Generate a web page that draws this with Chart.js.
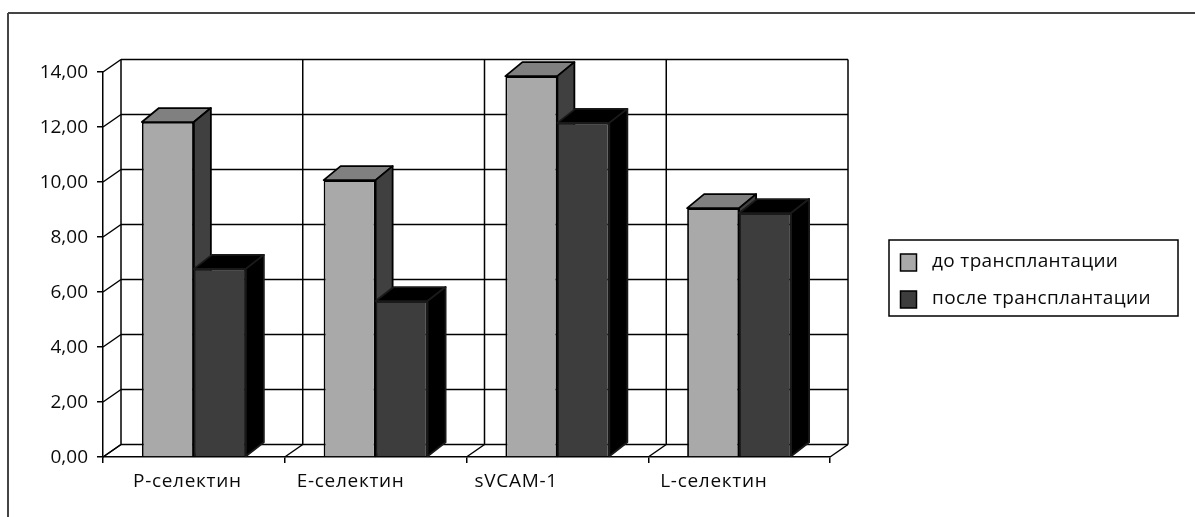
<!DOCTYPE html>
<html>
<head>
<meta charset="utf-8">
<title>Селектины</title>
<script src="https://cdn.jsdelivr.net/npm/chart.js@4/dist/chart.umd.min.js"></script>
<style>
  html, body { margin: 0; padding: 0; background: #fff; }
  #wrap { position: relative; width: 1195px; height: 517px; }
</style>
</head>
<body>
<div id="wrap"><canvas id="chart" width="1195" height="517"></canvas></div>
<script>
const categories = ['P-селектин', 'E-селектин', 'sVCAM-1', 'L-селектин'];
const seriesNames = ['до трансплантации', 'после трансплантации'];
const beforeValues = [12.18, 10.07, 13.85, 9.05];
const afterValues = [6.84, 5.67, 12.15, 8.87];
const yTicks = [0, 2, 4, 6, 8, 10, 12, 14];

const FONT = '"Open Sans", sans-serif';
const TEXT = '#0a0a0a';
const LINE = '#000';

// depth of the floor and walls, in px
const WALL_DX = 18, WALL_DY = 12.5;
// how far each category label starts from its tick
const labelInset = [30, 12, 8, 12];

const faces = [
    { front: '#a9a9a9', top: '#808080', side: '#404040', edge: '#000', dx: 17, dy: 14 },
    { front: '#3d3d3d', top: '#000000', side: '#000000', edge: '#1a1a1a', dx: 18, dy: 14 }
];

function line(ctx, x1, y1, x2, y2) {
    ctx.beginPath();
    ctx.moveTo(x1, y1);
    ctx.lineTo(x2, y2);
    ctx.stroke();
}

function poly(ctx, pts, fill) {
    ctx.beginPath();
    pts.forEach((p, i) => i ? ctx.lineTo(p[0], p[1]) : ctx.moveTo(p[0], p[1]));
    ctx.closePath();
    ctx.fillStyle = fill;
    ctx.fill();
    ctx.stroke();
}

// back wall, left wall and floor
function drawWalls(chart) {
    const { ctx, scales: { x, y } } = chart;
    ctx.save();
    ctx.strokeStyle = LINE;
    ctx.lineWidth = 1.5;
    yTicks.forEach(v => {
        const py = y.getPixelForValue(v);
        line(ctx, x.left, py, x.left + WALL_DX, py - WALL_DY);
        line(ctx, x.left + WALL_DX, py - WALL_DY, x.right + WALL_DX, py - WALL_DY);
    });
    const step = (x.right - x.left) / categories.length;
    for (let i = 0; i <= categories.length; i++) {
        const px = x.left + step * i + WALL_DX;
        line(ctx, px, y.top - WALL_DY, px, y.bottom - WALL_DY);
        line(ctx, px - WALL_DX, y.bottom, px, y.bottom - WALL_DY);
    }
    ctx.restore();
}

// front faces come from the bar elements, top and side are added around them
function drawBars(chart) {
    const ctx = chart.ctx;
    chart.data.datasets.forEach((ds, d) => {
        const c = faces[d];
        chart.getDatasetMeta(d).data.forEach(bar => {
            const l = bar.x - bar.width / 2, r = bar.x + bar.width / 2;
            ctx.save();
            ctx.strokeStyle = c.edge;
            ctx.lineWidth = 1.8;
            ctx.lineJoin = 'round';
            poly(ctx, [[l, bar.y], [l + c.dx, bar.y - c.dy], [r + c.dx, bar.y - c.dy], [r, bar.y]], c.top);
            poly(ctx, [[r, bar.y], [r + c.dx, bar.y - c.dy], [r + c.dx, bar.base - c.dy], [r, bar.base]], c.side);
            ctx.restore();
            bar.draw(ctx);
        });
    });
}

function drawCategoryLabels(chart) {
    const { ctx, scales: { x, y } } = chart;
    const step = (x.right - x.left) / categories.length;
    ctx.save();
    ctx.font = '19px ' + FONT;
    ctx.letterSpacing = '0.7px';
    ctx.fillStyle = TEXT;
    ctx.textBaseline = 'middle';
    categories.forEach((name, i) => {
        ctx.fillText(name, x.left + step * i + labelInset[i], y.bottom + 25);
    });
    ctx.restore();
}

function drawLegend(chart) {
    const ctx = chart.ctx;
    ctx.save();
    ctx.strokeStyle = LINE;
    ctx.lineWidth = 1.5;
    ctx.fillStyle = '#fff';
    ctx.fillRect(889, 240, 289, 76);
    ctx.strokeRect(889, 240, 289, 76);
    ctx.font = '19px ' + FONT;
    ctx.letterSpacing = '0.35px';
    ctx.textBaseline = 'middle';
    seriesNames.forEach((name, i) => {
        const cy = 262.5 + i * 37;
        ctx.fillStyle = faces[i].front;
        ctx.fillRect(900.5, cy - 8.5, 16, 17);
        ctx.strokeRect(900.5, cy - 8.5, 16, 17);
        ctx.fillStyle = TEXT;
        ctx.fillText(name, 932, cy - 1);
    });
    ctx.restore();
}

function drawFrame(chart) {
    const ctx = chart.ctx;
    ctx.save();
    ctx.strokeStyle = '#444';
    ctx.lineWidth = 2;
    line(ctx, 8, 517, 8, 13);
    line(ctx, 8, 13, 1195, 13);
    ctx.restore();
}

const excel3d = {
    id: 'excel3d',
    beforeDatasetsDraw(chart) {
        drawFrame(chart);
        drawWalls(chart);
        drawBars(chart);
        drawCategoryLabels(chart);
        drawLegend(chart);
        return false;
    }
};

new Chart(document.getElementById('chart'), {
    type: 'bar',
    data: {
        labels: categories,
        datasets: [
            { label: seriesNames[0], data: beforeValues, backgroundColor: faces[0].front, borderColor: faces[0].edge, borderWidth: 1.8 },
            { label: seriesNames[1], data: afterValues, backgroundColor: faces[1].front, borderColor: faces[1].edge, borderWidth: 1.8 }
        ]
    },
    options: {
        responsive: false,
        animation: false,
        events: [],
        layout: { padding: { left: 0, right: 365, top: 72, bottom: 0 } },
        plugins: { legend: { display: false }, tooltip: { enabled: false } },
        datasets: { bar: { categoryPercentage: 0.572, barPercentage: 1 } },
        scales: {
            x: {
                grid: { offset: true, drawOnChartArea: false, tickLength: 6, color: LINE, lineWidth: 1.5 },
                border: { color: LINE, width: 1.5 },
                ticks: { display: false },
                afterFit(scale) { scale.height = 60; }
            },
            y: {
                min: 0,
                max: 14,
                afterBuildTicks(scale) { scale.ticks = yTicks.map(v => ({ value: v })); },
                grid: { drawOnChartArea: false, tickLength: 6, color: LINE, lineWidth: 1.5 },
                border: { color: LINE, width: 1.5 },
                ticks: {
                    color: TEXT,
                    padding: 9,
                    labelOffset: 1,
                    font: { family: FONT, size: 19 },
                    callback: v => v.toFixed(2).replace('.', ',')
                },
                afterFit(scale) { scale.width = 103; }
            }
        }
    },
    plugins: [excel3d]
});
</script>
</body>
</html>
